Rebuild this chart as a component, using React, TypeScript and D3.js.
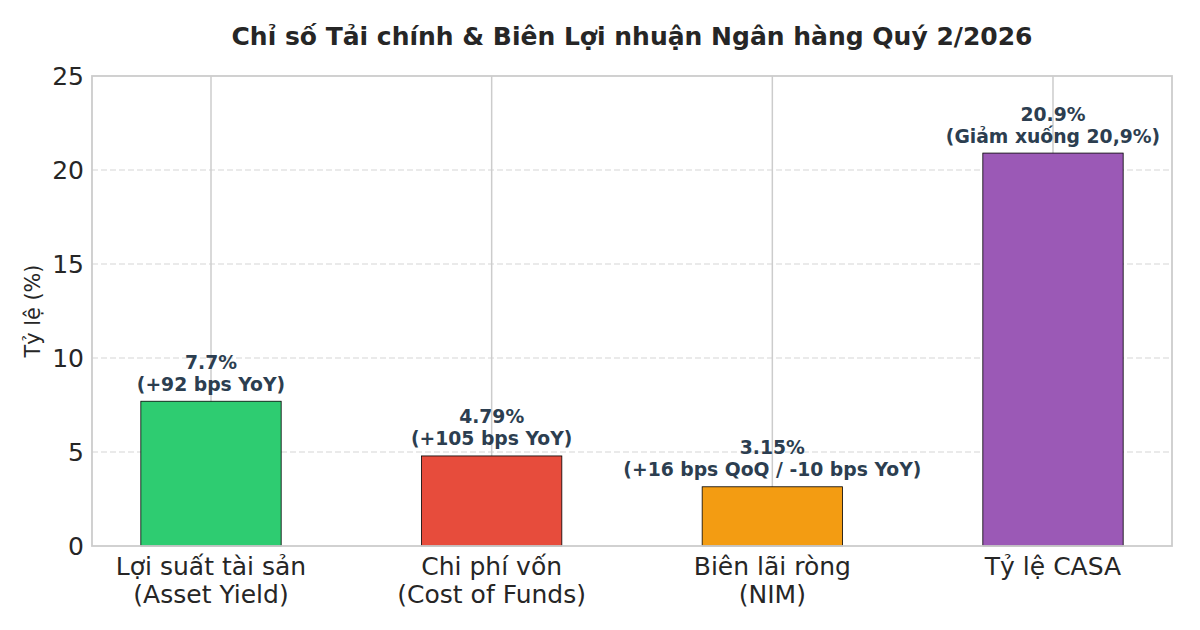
import React from "react";
import * as d3 from "d3";

const categories = ["Lợi suất tài sản\n(Asset Yield)", "Chi phí vốn\n(Cost of Funds)", "Biên lãi ròng\n(NIM)", "Tỷ lệ CASA"];
const values = [7.7, 4.79, 3.15, 20.9];
const notes = ["(+92 bps YoY)", "(+105 bps YoY)", "(+16 bps QoQ / -10 bps YoY)", "(Giảm xuống 20,9%)"];
const valueLabels = ["7.7%", "4.79%", "3.15%", "20.9%"];
const colors = ["#2ecc71", "#e74c3c", "#f39c12", "#9b59b6"];
const yTicks = [0, 5, 10, 15, 20, 25];

export default function App() {
  const W = 1200, H = 630;
  const left = 92, right = 1172, top = 76, bottom = 546;
  const x = d3.scaleLinear().domain([-0.424, 3.424]).range([left, right]);
  const y = d3.scaleLinear().domain([0, 25]).range([bottom, top]);
  const font = "DejaVu Sans, sans-serif";
  const bw = x(0.5) - x(0);
  return (
    <svg width={W} height={H} style={{ position: "absolute", left: 0, top: 0, background: "#fff" }} fontFamily={font}>
      <rect x={0} y={0} width={W} height={H} fill="#fff" />
      {yTicks.slice(1, -1).map((t) => (
        <line key={t} x1={left} x2={right} y1={y(t)} y2={y(t)} stroke="#cccccc" strokeWidth={1.2} strokeDasharray="6,3" opacity={0.8} />
      ))}
      {categories.map((c, i) => (
        <line key={i} x1={x(i)} x2={x(i)} y1={top} y2={bottom} stroke="#cccccc" strokeWidth={1.5} />
      ))}
      {values.map((v, i) => (
        <rect key={i} x={x(i) - bw / 2} y={y(v)} width={bw} height={y(0) - y(v)} fill={colors[i]} stroke="#000" strokeWidth={0.8} />
      ))}
      <rect x={left} y={top} width={right - left} height={bottom - top} fill="none" stroke="#cccccc" strokeWidth={1.8} />
      {yTicks.map((t) => (
        <text key={t} x={left - 8} y={y(t)} textAnchor="end" dominantBaseline="central" fontSize={25} fill="#262626">{t}</text>
      ))}
      {categories.map((c, i) => (
        <text key={i} x={x(i)} y={566} textAnchor="middle" fontSize={25} fill="#262626">
          {c.split("\n").map((l, j) => (
            <tspan key={j} x={x(i)} y={566 + j * 28.5} dominantBaseline="central">{l}</tspan>
          ))}
        </text>
      ))}
      {values.map((v, i) => (
        <g key={i}>
          <text x={x(i)} y={y(v) - 39} textAnchor="middle" dominantBaseline="central" fontSize={18.75} fontWeight="bold" fill="#2c3e50">{valueLabels[i]}</text>
          <text x={x(i)} y={y(v) - 17} textAnchor="middle" dominantBaseline="central" fontSize={18.75} fontWeight="bold" fill="#2c3e50">{notes[i]}</text>
        </g>
      ))}
      <text x={33} y={311} transform="rotate(-90, 33, 311)" textAnchor="middle" dominantBaseline="central" fontSize={20.8} fill="#262626">Tỷ lệ (%)</text>
      <text x={(left + right) / 2} y={36} textAnchor="middle" dominantBaseline="central" fontSize={25} fontWeight="bold" fill="#262626">Chỉ số Tải chính &amp; Biên Lợi nhuận Ngân hàng Quý 2/2026</text>
    </svg>
  );
}
